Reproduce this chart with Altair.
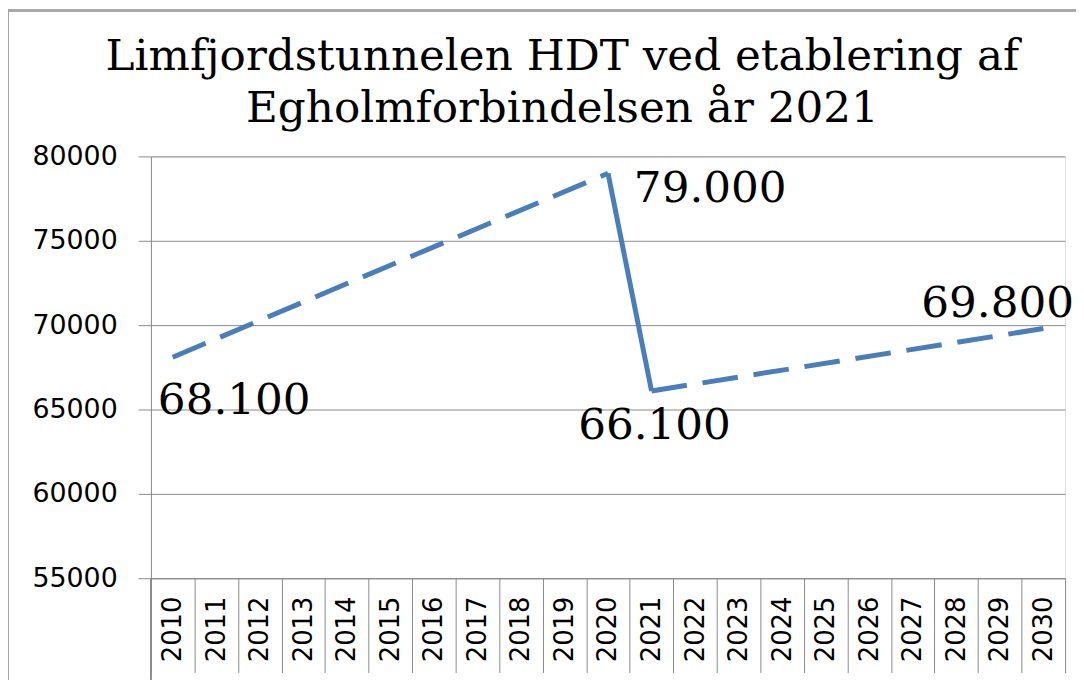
import altair as alt
import pandas as pd

# ---- data ----
years = [str(y) for y in range(2010, 2031)]
point_years = ["2010", "2020", "2021", "2030"]
point_values = [68100, 79000, 66100, 69800]
# line segments: (start index, end index) into the points, and their style
segment_start = [0, 1, 2]
segment_end = [1, 2, 3]
segment_style = ["stiplet", "fuld", "stiplet"]
y_ticks = [55000, 60000, 65000, 70000, 75000, 80000]
title_lines = ["Limfjordstunnelen HDT ved etablering af", "Egholmforbindelsen år 2021"]

# ---- tables ----
seg_rows = []
for i, (s, e, st) in enumerate(zip(segment_start, segment_end, segment_style)):
    for k in (s, e):
        seg_rows.append({"seg": i, "style": st, "year": point_years[k], "hdt": point_values[k]})
seg_df = pd.DataFrame(seg_rows)
pts_df = pd.DataFrame({"year": point_years, "hdt": point_values})

BLUE = "#4a7ebb"
GRID = "#8a8a8a"
W, H = 921, 425

x_scale = alt.Scale(type="band", domain=years, paddingInner=0, paddingOuter=0)
x_enc = alt.X(
    "year:O",
    scale=x_scale,
    bandPosition=0.5,
    axis=alt.Axis(
        title=None,
        tickBand="extent",
        tickSize=95,
        tickColor=GRID,
        domainColor=GRID,
        labelAngle=270,
        labelAlign="right",
        labelBaseline="middle",
        labelPadding=-77,
        labelFont="DejaVu Sans",
        labelFontSize=26,
        labelColor="black",
        grid=False,
    ),
)
y_scale = alt.Scale(domain=[55000, 80000], nice=False, zero=False)
y_enc = alt.Y(
    "hdt:Q",
    scale=y_scale,
    axis=alt.Axis(
        title=None,
        values=y_ticks,
        format="d",
        grid=True,
        gridColor=GRID,
        tickColor=GRID,
        domainColor=GRID,
        tickSize=13,
        labelPadding=21,
        labelFont="DejaVu Sans",
        labelFontSize=27,
        labelColor="black",
    ),
)

line = alt.Chart(seg_df).mark_line(strokeWidth=5, color=BLUE, strokeCap="butt").encode(
    x=x_enc,
    y=y_enc,
    detail="seg:N",
    strokeDash=alt.StrokeDash(
        "style:N",
        scale=alt.Scale(domain=["stiplet", "fuld"], range=[[36, 16], [1, 0]]),
        legend=None,
    ),
)

# label placement per point (style only)
label_offsets = {"2010": (62, 57), "2020": (103, 29), "2021": (3, 48), "2030": (-46, -12)}
labels = []
for yr, (dx, dy) in label_offsets.items():
    labels.append(
        alt.Chart(pts_df)
        .transform_filter(alt.datum.year == yr)
        .transform_calculate(lbl="replace(format(datum.hdt, ','), ',', '.')")
        .mark_text(font="DejaVu Serif", fontSize=44, color="black", align="center",
                   baseline="alphabetic", dx=dx, dy=dy)
        .encode(x=alt.X("year:O", scale=x_scale, bandPosition=0.5),
                y=alt.Y("hdt:Q", scale=y_scale), text="lbl:N")
    )

# outer chart frame and left edge of the category box (decoration)
frame_left = alt.Chart(pts_df).mark_rule(color="#a6a6a6", strokeWidth=2).encode(
    x=alt.value(-144), y=alt.value(-147), y2=alt.value(H + 120))
frame_top = alt.Chart(pts_df).mark_rule(color="#a6a6a6", strokeWidth=2).encode(
    x=alt.value(-144), x2=alt.value(W + 20), y=alt.value(-147))
axis_ext = alt.Chart(pts_df).mark_rule(color=GRID, strokeWidth=1).encode(
    x=alt.value(0), y=alt.value(H), y2=alt.value(H + 120))

chart = alt.layer(frame_left, frame_top, axis_ext, line, *labels).properties(
    width=W,
    height=H,
    title=alt.TitleParams(
        text=title_lines,
        font="DejaVu Serif",
        fontSize=44,
        fontWeight="normal",
        color="black",
        anchor="middle",
        lineHeight=52,
        dx=-46,
        offset=-122,
    ),
    autosize=alt.AutoSizeParams(type="none"),
    padding={"left": 144, "top": 147, "right": 11, "bottom": 100},
).configure_view(stroke=None).configure(background="white")

chart.save("out.html", embed_options={"renderer": "svg", "actions": False})
